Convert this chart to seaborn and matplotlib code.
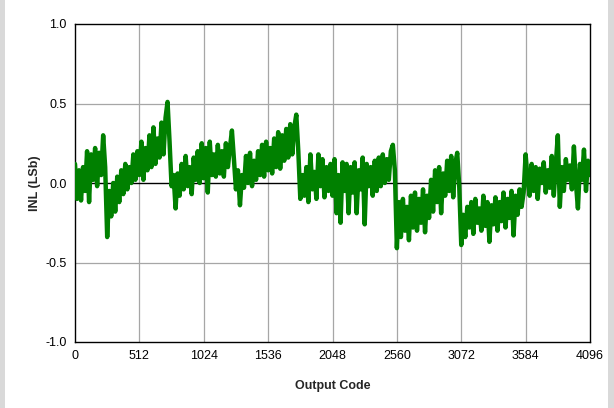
import numpy as np
import pandas as pd
import matplotlib
matplotlib.use("Agg")
import matplotlib.pyplot as plt
import seaborn as sns

# Output codes sampled every 16 codes across the 12-bit range
codes = np.arange(0, 4097, 16)

# INL (LSb) at each sampled code
inl = [
    # 0 - 240
    0.12, -0.10, 0.08, -0.11, 0.10, -0.05, 0.20, -0.12, 0.18, 0.02, 0.22, -0.02, 0.19, 0.05, 0.30, 0.10,
    # 256
    -0.34,
    # 272 - 496
    -0.05, -0.21, 0.00, -0.18, 0.04, -0.12, 0.08, -0.07, 0.12, -0.04, 0.10, 0.00, 0.18, 0.02, 0.20,
    # 512 - 736
    0.05, 0.26, 0.02, 0.22, 0.08, 0.30, 0.10, 0.35, 0.12, 0.28, 0.16, 0.38, 0.18, 0.41, 0.51,
    # 752 - 800
    0.26, -0.02, 0.05, -0.16,
    # 816 - 1232
    0.06, -0.08, 0.12, -0.04, 0.17, -0.02, 0.10, -0.07, 0.16, 0.02, 0.20, 0.00, 0.25, 0.03,
    0.22, -0.06, 0.26, 0.05, 0.18, 0.04, 0.24, 0.06, 0.20, 0.04, 0.25, 0.10, 0.22,
    # 1248 - 1312
    0.33, 0.15, -0.04, 0.08, -0.14,
    # 1328 - 1744
    0.05, -0.03, 0.17, 0.00, 0.19, -0.02, 0.14, 0.02, 0.20, 0.05, 0.24, 0.04, 0.26, 0.08,
    0.22, 0.06, 0.28, 0.10, 0.32, 0.09, 0.30, 0.14, 0.34, 0.16, 0.37, 0.18, 0.35,
    # 1760 - 1792
    0.43, 0.20, -0.10,
    # 1808 - 2512
    0.05, -0.08, 0.10, -0.12, 0.18, -0.04, 0.07, -0.10, 0.18, -0.02,
    0.15, -0.09, 0.10, -0.05, 0.12, -0.08, 0.15, -0.19, 0.05, -0.25,
    0.13, -0.05, 0.12, -0.19, 0.10, -0.06, 0.13, -0.19, 0.08, -0.04,
    0.16, -0.26, 0.12, -0.02, 0.10, -0.08, 0.14, -0.05, 0.16, -0.02,
    0.18, 0.00, 0.15, 0.02, 0.20,
    # 2528 - 2560
    0.24, 0.08, -0.41,
    # 2576 - 3024
    -0.12, -0.34, -0.10, -0.30, -0.15, -0.36, -0.08, -0.28, -0.06, -0.30,
    -0.10, -0.25, -0.04, -0.31, -0.08, -0.22, 0.02, -0.18, 0.08, -0.12,
    0.10, -0.19, 0.06, -0.08, 0.14, -0.05, 0.17, -0.09, 0.12,
    # 3040 - 3072
    0.19, -0.02, -0.39,
    # 3088 - 3568
    -0.20, -0.34, -0.15, -0.28, -0.12, -0.32, -0.10, -0.25, -0.16, -0.30,
    -0.08, -0.27, -0.12, -0.37, -0.14, -0.26, -0.09, -0.30, -0.12, -0.24,
    -0.06, -0.28, -0.10, -0.22, -0.05, -0.33, -0.08, -0.20, -0.04, -0.15,
    -0.06,
    # 3584
    0.18,
    # 3600 - 4096
    0.02, -0.08, 0.12, -0.05, 0.10, -0.10, 0.09, 0.00, 0.13, -0.06,
    0.08, -0.03, 0.17, -0.08, 0.12, 0.30, -0.15, 0.10, -0.05, 0.15,
    0.02, 0.11, -0.04, 0.23, 0.00, -0.16, 0.12, 0.02, 0.21, -0.05,
    0.14, 0.05,
]

x_ticks = [0, 512, 1024, 1536, 2048, 2560, 3072, 3584, 4096]
y_ticks = [-1.0, -0.5, 0.0, 0.5, 1.0]
y_tick_labels = ["-1.0", "-0.5", "0.0", "0.5", "1.0"]

df = pd.DataFrame({"code": codes, "inl": inl})

sns.set_style("white")
plt.rcParams["font.family"] = ["Liberation Sans", "DejaVu Sans"]

fig = plt.figure(figsize=(6.14, 4.08), dpi=100)
ax = fig.add_axes([75 / 614, 1 - 342 / 408, 515 / 614, 318 / 408])

# light grey side strips framing the figure
for x0, w in [(0, 5 / 614), (608 / 614, 6 / 614)]:
    fig.patches.append(plt.Rectangle((x0, 0), w, 1, transform=fig.transFigure,
                                     facecolor="#d9d9d9", edgecolor="none", zorder=0))

ax.set_xlim(0, 4096)
ax.set_ylim(-1.0, 1.0)
ax.set_xticks(x_ticks)
ax.set_xticklabels([str(t) for t in x_ticks])
ax.set_yticks(y_ticks)
ax.set_yticklabels(y_tick_labels)

for t in x_ticks[1:-1]:
    ax.axvline(t, color="#a6a6a6", lw=0.9, zorder=1)
for t in [-0.5, 0.5]:
    ax.axhline(t, color="#a6a6a6", lw=0.9, zorder=1)
ax.axhline(0.0, color="black", lw=1.0, zorder=1)

sns.lineplot(data=df, x="code", y="inl", ax=ax, color="#008000", lw=3.2, zorder=3)

for s in ax.spines.values():
    s.set_color("black")
    s.set_linewidth(1.0)

ax.tick_params(axis="both", length=0, labelsize=9, pad=6, colors="black")
ax.set_xlabel("Output Code", fontsize=9, fontweight="bold", labelpad=13)
ax.set_ylabel("INL (LSb)", fontsize=9, fontweight="bold", labelpad=3)

fig.savefig("out.png", dpi=100)
